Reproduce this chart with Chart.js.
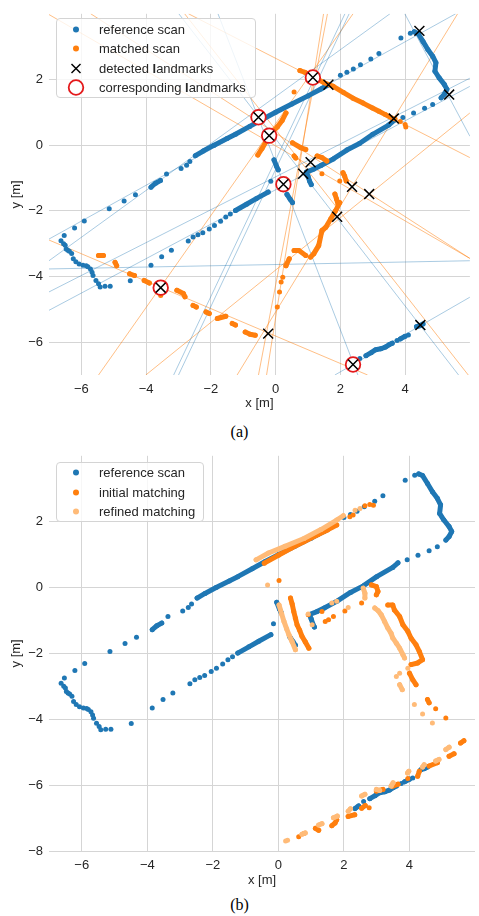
<!DOCTYPE html>
<html>
<head>
<meta charset="utf-8">
<script src="https://cdn.jsdelivr.net/npm/chart.js@4.4.1/dist/chart.umd.min.js"></script>
<style>
  html, body { margin: 0; padding: 0; background: #fff; }
  body { width: 479px; height: 916px; position: relative; overflow: hidden;
         font-family: "Liberation Sans", Arial, sans-serif; }
  .panel { position: absolute; left: 0; }
  .panel canvas { display: block; }
  .legend { position: absolute; left: 56px; background: rgba(255,255,255,0.8);
            border: 1px solid #d4d4d4; border-radius: 4px; box-sizing: border-box;
            font-size: 13px; color: #262626; }
  .legend .row { position: absolute; left: 0; height: 19px; line-height: 19px; white-space: nowrap; }
  .legend svg { position: absolute; left: 8px; top: 0; }
  .legend span { position: absolute; left: 42px; top: 0; }
  .caption { position: absolute; left: 0; width: 479px; text-align: center;
             font-family: "Liberation Serif", "Times New Roman", serif; font-size: 16px;
             line-height: 16px; color: #000; }
</style>
</head>
<body>

<div class="panel" style="top:0;"><canvas id="scanA" width="479" height="420"></canvas></div>
<div class="legend" style="top:18px; width:200px; height:80px;">
  <div class="row" style="top:1px;"><svg width="22" height="19"><circle cx="11" cy="9.5" r="3" fill="#1f77b4"/></svg><span>reference scan</span></div>
  <div class="row" style="top:20px;"><svg width="22" height="19"><circle cx="11" cy="9.5" r="3" fill="#ff7f0e"/></svg><span>matched scan</span></div>
  <div class="row" style="top:40px;"><svg width="22" height="19"><line x1="6.5" y1="5" x2="15.5" y2="14" stroke="#000" stroke-width="1.5"/><line x1="15.5" y1="5" x2="6.5" y2="14" stroke="#000" stroke-width="1.5"/></svg><span>detected <b style="font-weight:bold">l</b>andmarks</span></div>
  <div class="row" style="top:59px;"><svg width="22" height="19"><circle cx="11" cy="9.5" r="7.3" fill="none" stroke="#e41a1c" stroke-width="1.8"/></svg><span>corresponding <b style="font-weight:bold">l</b>andmarks</span></div>
</div>
<div class="caption" style="top:424px;">(a)</div>

<div class="panel" style="top:442px;"><canvas id="scanB" width="479" height="453"></canvas></div>
<div class="legend" style="top:462px; width:148px; height:60px;">
  <div class="row" style="top:0px;"><svg width="22" height="19"><circle cx="11" cy="9.5" r="3" fill="#1f77b4"/></svg><span>reference scan</span></div>
  <div class="row" style="top:19.5px;"><svg width="22" height="19"><circle cx="11" cy="9.5" r="3" fill="#ff7f0e"/></svg><span>initial matching</span></div>
  <div class="row" style="top:39px;"><svg width="22" height="19"><circle cx="11" cy="9.5" r="3" fill="#ffbb78"/></svg><span>refined matching</span></div>
</div>
<div class="caption" style="top:897px;">(b)</div>

<script>
// ---------- axes ----------
const xTicks = [-6, -4, -2, 0, 2, 4];
const yTicksA = [-6, -4, -2, 0, 2];
const yTicksB = [-8, -6, -4, -2, 0, 2];

// ---------- reference scan (same in both panels) ----------
// isolated returns
const refDots = [
  [-6.53,-2.75],[-6.21,-2.52],[-5.91,-2.31],[-5.14,-1.94],[-4.68,-1.70],[-4.33,-1.51],
  [-3.37,-0.88],[-2.92,-0.71],[-2.75,-0.61],[-2.65,-0.5],
  [2.0,2.13],[2.2,2.22],[2.4,2.32],[2.62,2.45],[2.94,2.62],[3.19,2.79],[3.87,3.26],[4.16,3.41],
  [4.85,1.24],[4.6,1.12],[4.26,0.98],[3.93,0.84],
  [-0.15,-1.1],
  [-1.4,-2.1],[-1.54,-2.19],[-1.7,-2.32],[-1.89,-2.45],[-2.05,-2.55],[-2.25,-2.67],
  [-2.4,-2.73],[-2.55,-2.8],[-2.7,-2.92],
  [-3.22,-3.2],[-3.52,-3.4],[-3.85,-3.66],[-4.49,-4.13],
  [-5.11,-4.3],[-5.27,-4.3],[-5.42,-4.32],[-5.47,-4.22],[-5.55,-4.12],[-5.64,-3.97],
  [-5.67,-3.87],[-5.72,-3.77],[-5.8,-3.7],[-5.85,-3.67],[-5.95,-3.66],[-6.07,-3.62],
  [-6.17,-3.55],[-6.25,-3.46],[-6.3,-3.3],[-6.37,-3.23],[-6.42,-3.2],[-6.47,-3.16],
  [-6.5,-3.05],[-6.55,-3.0],[-6.63,-2.91],
  [2.6,-6.5],[3.75,-5.95],[4.1,-5.78]
];
// densely sampled wall pieces
const refRuns = [
  [[-3.85,-1.28],[-3.71,-1.16],[-3.56,-1.08]],
  [[-2.48,-0.32],[-2.24,-0.18],[-1.9,0.0],[-1.5,0.2],[-1.24,0.33],[-0.8,0.57],[-0.4,0.79],
   [0,1.0],[0.5,1.25],[1.0,1.5],[1.4,1.71],[1.63,1.84]],
  [[4.28,3.45],[4.4,3.4],[4.55,3.16],[4.7,2.91],[4.85,2.71],[4.95,2.51],[4.92,2.25],
   [5.05,2.05],[5.21,1.85],[5.29,1.7],[5.21,1.55],[5.11,1.44]],
  [[3.65,0.75],[3.49,0.61],[3.0,0.33],[2.59,0.05],[2.2,-0.15],[1.78,-0.42],[1.4,-0.62],
   [1.18,-0.73],[0.95,-0.82],[1.0,-0.95],[1.05,-1.1],[1.1,-1.2]],
  [[-0.05,-0.45],[0.03,-0.65],[0.08,-0.75]],
  [[0.35,-1.5],[0.45,-1.65],[0.52,-1.75]],
  [[-0.23,-1.43],[-0.6,-1.63],[-0.9,-1.8],[-1.24,-1.99]],
  [[2.34,-6.71],[2.45,-6.63]],
  [[2.79,-6.41],[2.95,-6.32],[3.09,-6.23],[3.25,-6.2],[3.39,-6.15],[3.5,-6.08],[3.6,-6.03]],
  [[3.85,-5.9],[4.0,-5.82]],
  [[4.35,-5.53],[4.45,-5.5],[4.55,-5.45]]
];

// ---------- matched scan, panel (a) ----------
const matchedDots = [
  [0.57,1.62],[3.69,0.8],[3.85,0.72],[4.0,0.63],[4.02,0.55],[1.43,-0.87],[1.98,-1.09],
  [0.22,-4.02],[0.17,-4.17],[0.12,-4.47],[0.05,-4.93],[-3.55,-4.58]
];
const matchedRuns = [
  [[0.75,2.27],[0.9,2.22],[1.15,2.08],[1.5,1.9],[1.78,1.79],[2.1,1.6],[2.39,1.43],[2.7,1.28],
   [2.99,1.13],[3.19,1.03],[3.39,0.93],[3.6,0.82]],
  [[0.32,0.98],[0.2,0.75],[0.05,0.55],[-0.1,0.4],[-0.2,0.25],[-0.3,0.1],[-0.42,-0.1],[-0.55,-0.3]],
  [[1.98,-1.75],[1.85,-2.0],[1.7,-2.25],[1.55,-2.5],[1.43,-2.6],[1.33,-3.06],[1.18,-3.31],[1.08,-3.41]],
  [[0.93,-3.36],[0.72,-3.21],[0.57,-3.21]],
  [[0.42,-3.46],[0.32,-3.67]],
  [[0.52,0.07],[0.78,-0.08],[0.93,-0.13]],
  [[0.57,-0.33],[0.62,-0.39]],
  [[1.28,-0.33],[1.43,-0.38],[1.58,-0.48]],
  [[2.08,-0.84],[2.13,-0.94],[2.18,-1.09]],
  [[1.83,-1.49],[1.88,-1.64],[1.93,-1.8]],
  [[-5.47,-3.36],[-5.32,-3.36]],
  [[-4.96,-3.57],[-4.91,-3.67]],
  [[-4.51,-3.92],[-4.36,-3.97]],
  [[-4.06,-4.12],[-3.9,-4.2]],
  [[-3.05,-4.42],[-2.85,-4.52],[-2.8,-4.62]],
  [[-2.55,-4.88],[-2.45,-4.93]],
  [[-2.15,-5.08],[-2.05,-5.13]],
  [[-1.8,-5.28],[-1.54,-5.21]],
  [[-1.34,-5.43],[-1.24,-5.48]],
  [[-0.94,-5.69],[-0.79,-5.76],[-0.63,-5.79]]
];

// ---------- landmarks, panel (a) ----------
const detectedLandmarks = [
  [4.44,3.48],[5.36,1.54],[1.63,1.84],[3.65,0.81],[1.15,2.06],[-0.53,0.85],[-0.2,0.29],
  [1.08,-0.52],[0.85,-0.87],[0.24,-1.19],[2.36,-1.27],[2.89,-1.49],[1.9,-2.18],
  [-0.23,-5.74],[2.39,-6.68],[4.47,-5.48],[-3.55,-4.34]
];
const correspondingLandmarks = [
  [1.15,2.06],[-0.53,0.85],[-0.2,0.29],[0.24,-1.19],[2.39,-6.68],[-3.55,-4.34]
];

// fitted line features: [x1, y1, x2, y2]
const refLines = [
  [-7,-2.86,5.56,4], [-7,-3.52,3.53,4], [-7,-5.03,6,1.79], [-7,-4.47,6,2.04],
  [-7,-3.77,6,-3.52], [3.99,4,6,0.27], [1.83,-7,6,-4.63], [-1.78,4,2.54,-7],
  [-2.99,4,5.65,-7], [2.14,4,-3.15,-7], [2.27,4,-3.0,-7]
];
const matchedLines = [
  [-7,-2.89,2.84,-7], [-2.69,4,6,-0.38], [-5.71,4,6,-3.45], [-7.04,4,6,-3.45],
  [-5.47,-7,2.39,4], [-4.01,-7,6,0.98], [1.48,4,-0.28,-7], [1.6,4,-0.53,-7],
  [5.62,4,-1.19,-7], [-2.81,4,5.95,-7]
];

// ---------- panel (b) ----------
const initialDots = [
  [2.18,2.15],[2.28,2.2],[2.64,2.48],[2.79,2.52],[2.9,2.5],[0.02,0.21],[0.91,-0.83],
  [1.33,-0.73],[1.43,-1.03],[1.53,-0.98],[1.68,-0.88],[2.03,-0.71],[2.54,-0.47],
  [4.8,-3.68],[5.11,-3.96],[0.62,-7.57],[0.78,-7.47],[2.77,-6.69],[3.95,-5.8]
];
const initialRuns = [
  [[-0.43,0.74],[0.0,0.98],[0.4,1.2],[0.78,1.39],[1.2,1.6],[1.5,1.75],[1.78,1.9]],
  [[0.37,-0.32],[0.42,-0.5],[0.47,-0.73],[0.52,-0.93],[0.57,-1.13],[0.65,-1.3],[0.72,-1.48],
   [0.82,-1.65],[0.93,-1.84]],
  [[2.84,0.08],[2.99,0.03],[3.04,-0.12],[2.99,-0.22]],
  [[3.34,-0.53],[3.49,-0.53],[3.54,-0.68],[3.7,-0.88],[3.8,-1.13],[3.95,-1.33],[4.05,-1.54],
   [4.2,-1.74],[4.3,-1.94],[4.4,-2.19],[4.25,-2.29],[4.05,-2.34]],
  [[4.0,-2.6],[4.1,-2.8],[4.2,-2.95]],
  [[4.55,-3.4],[4.6,-3.5]],
  [[1.13,-7.31],[1.23,-7.37]],
  [[1.63,-7.23],[1.73,-7.15],[1.78,-7.05]],
  [[2.13,-6.95],[2.33,-6.9]],
  [[2.54,-6.7],[2.65,-6.62]],
  [[2.99,-6.18],[3.19,-6.13]],
  [[3.49,-6.03],[3.65,-5.97]],
  [[4.25,-5.73],[4.3,-5.58]],
  [[4.6,-5.42],[4.85,-5.32]],
  [[5.21,-5.12],[5.36,-5.05]],
  [[5.56,-4.72],[5.66,-4.65]]
];
const refinedDots = [
  [2.34,2.35],[2.49,2.4],[-0.33,0.08],[1.03,-1.13],[0.91,-0.8],[1.63,-0.47],[1.78,-0.42],
  [2.13,-0.61],[3.95,-2.45],[3.7,-2.6],[3.6,-2.7],[4.15,-3.55],[4.4,-3.84],[4.7,-4.11],
  [0.22,-7.7],[0.28,-7.67]
];
const refinedRuns = [
  [[-0.68,0.84],[-0.3,1.05],[0.2,1.25],[0.78,1.49],[1.3,1.76],[1.78,2.05],[1.98,2.18]],
  [[0.02,-0.53],[0.1,-0.8],[0.17,-1.03],[0.25,-1.25],[0.32,-1.43],[0.42,-1.65],[0.52,-1.89]],
  [[2.59,-0.02],[2.64,-0.17],[2.64,-0.32]],
  [[2.94,-0.62],[3.04,-0.7],[3.14,-0.83],[3.24,-1.03],[3.34,-1.23],[3.44,-1.39],[3.49,-1.53],
   [3.6,-1.69],[3.7,-1.84],[3.8,-2.04],[3.85,-2.14]],
  [[3.7,-2.95],[3.78,-3.1]],
  [[0.72,-7.49],[0.82,-7.45]],
  [[1.23,-7.21],[1.33,-7.17]],
  [[1.68,-6.99],[1.8,-6.94]],
  [[2.13,-6.79],[2.2,-6.72]],
  [[2.54,-6.33],[2.64,-6.28]],
  [[2.99,-6.13],[3.09,-6.16]],
  [[3.44,-6.03],[3.5,-5.93]],
  [[3.94,-5.63],[3.98,-5.58]],
  [[4.4,-5.45],[4.45,-5.38]],
  [[4.8,-5.27],[4.9,-5.22]],
  [[5.11,-4.92],[5.21,-4.85]]
];

// ---------- styling ----------
const FONT = "'Liberation Sans', Arial, sans-serif";
const BLUE = '#1f77b4', ORANGE = '#ff7f0e', LIGHT = '#ffbb78';
const DOT_R = 2.5;

const pts = arr => arr.map(([x, y]) => ({x, y}));
const fmt = v => String(v).replace('-', '\u2212');

function dotSet(arr, color, order) {
  return { data: pts(arr), showLine: false, backgroundColor: color, borderWidth: 0,
           pointRadius: DOT_R, pointBorderWidth: 0, order };
}
function runSets(runs, color, order) {
  return runs.map(r => ({ data: pts(r), showLine: true, borderColor: color, backgroundColor: color,
    borderWidth: 2 * DOT_R, pointRadius: DOT_R, pointBorderWidth: 0,
    borderCapStyle: 'round', borderJoinStyle: 'round', tension: 0, order }));
}
function lineSets(lines, color) {
  return lines.map(([x1, y1, x2, y2]) => ({ data: [{x: x1, y: y1}, {x: x2, y: y2}],
    showLine: true, borderColor: color, borderWidth: 1, pointRadius: 0, order: 20 }));
}

function axis(min, max, ticks, title, isX, boxSize, titlePad) {
  return {
    type: 'linear', min, max, position: isX ? 'bottom' : 'left',
    afterBuildTicks: s => { s.ticks = ticks.map(v => ({value: v})); },
    afterFit: s => { if (isX) s.height = boxSize; else s.width = boxSize; },
    grid: { color: '#d5d5d5', lineWidth: 1, drawTicks: false },
    border: { display: false },
    ticks: { color: '#262626', font: {family: FONT, size: 13}, padding: isX ? 7 : 6,
             callback: v => fmt(v) },
    title: { display: true, text: title, color: '#262626', font: {family: FONT, size: 13},
             padding: isX ? {top: 0, bottom: titlePad} : {top: titlePad, bottom: 0} }
  };
}

function options(yMin, yMax, yTicks, xBox, xTitlePad) {
  return {
    responsive: false, animation: false, events: [],
    layout: { padding: {top: 12, right: 0, bottom: 0, left: 0} },
    plugins: { legend: {display: false}, tooltip: {enabled: false} },
    scales: {
      x: axis(-7, 6, xTicks, 'x [m]', true, xBox, xTitlePad),
      y: axis(yMin, yMax, yTicks, 'y [m]', false, 49, 9)
    }
  };
}

// panel (a): scans, fitted lines and landmarks
new Chart(document.getElementById('scanA'), {
  type: 'scatter',
  data: { datasets: [
    { data: pts(detectedLandmarks), pointStyle: 'crossRot', pointRadius: 7,
      borderColor: '#000', backgroundColor: '#000', pointBorderWidth: 1.5, showLine: false, order: 0 },
    { data: pts(correspondingLandmarks), pointStyle: 'circle', pointRadius: 7.3,
      borderColor: '#e41a1c', backgroundColor: '#fff', pointBorderWidth: 1.8, showLine: false, order: 1 },
    dotSet(matchedDots, ORANGE, 4), ...runSets(matchedRuns, ORANGE, 4),
    dotSet(refDots, BLUE, 6), ...runSets(refRuns, BLUE, 6),
    ...lineSets(refLines, 'rgba(31,119,180,0.38)'),
    ...lineSets(matchedLines, 'rgba(255,127,14,0.5)')
  ]},
  options: options(-7, 4, yTicksA, 45, 9)
});

// panel (b): reference scan with initial and refined matching
new Chart(document.getElementById('scanB'), {
  type: 'scatter',
  data: { datasets: [
    dotSet(refinedDots, LIGHT, 2), ...runSets(refinedRuns, LIGHT, 2),
    dotSet(initialDots, ORANGE, 4), ...runSets(initialRuns, ORANGE, 4),
    dotSet(refDots, BLUE, 6), ...runSets(refRuns, BLUE, 6)
  ]},
  options: options(-8, 4, yTicksB, 44, 7)
});
</script>
</body>
</html>
